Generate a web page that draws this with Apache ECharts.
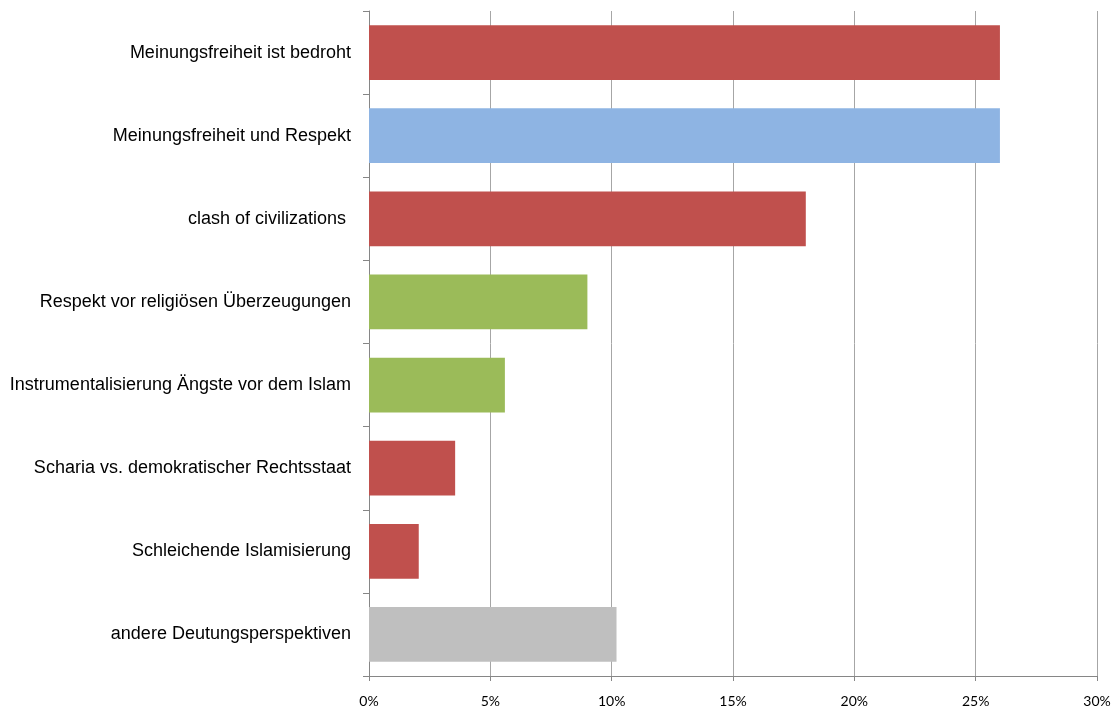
<!DOCTYPE html>
<html>
<head>
<meta charset="utf-8">
<script src="https://cdn.jsdelivr.net/npm/echarts@6/dist/echarts.min.js"></script>
<style>
  html, body { margin: 0; padding: 0; background: #fff; }
  #main { width: 1115px; height: 708px; }
</style>
</head>
<body>
<div id="main"></div>
<script>
var categories = [
    'Meinungsfreiheit ist bedroht',
    'Meinungsfreiheit und Respekt',
    'clash of civilizations ',
    'Respekt vor religiösen Überzeugungen',
    'Instrumentalisierung Ängste vor dem Islam',
    'Scharia vs. demokratischer Rechtsstaat',
    'Schleichende Islamisierung',
    'andere Deutungsperspektiven'
];
var values = [26.0, 26.0, 18.0, 9.0, 5.6, 3.55, 2.05, 10.2];
var barColors = ['#C0504D', '#8EB4E3', '#C0504D', '#9BBB59', '#9BBB59', '#C0504D', '#C0504D', '#BFBFBF'];

var myChart = echarts.init(document.getElementById('main'));

var option = {
    animation: false,
    grid: {
        left: 369,
        right: 18,
        top: 11,
        bottom: 32,
        containLabel: false
    },
    xAxis: {
        type: 'value',
        min: 0,
        max: 30,
        interval: 5,
        axisLine: { show: true, lineStyle: { color: '#868686' } },
        axisTick: { show: true, length: 5, lineStyle: { color: '#868686' } },
        splitLine: { show: true, lineStyle: { color: '#A6A6A6', width: 1 } },
        axisLabel: {
            formatter: '{value}%',
            color: '#000',
            fontFamily: 'Lato, "Open Sans", sans-serif',
            fontSize: 14,
            margin: 18
        }
    },
    yAxis: {
        type: 'category',
        inverse: true,
        data: categories,
        axisLine: { show: true, lineStyle: { color: '#868686' } },
        axisTick: { show: true, length: 6, alignWithLabel: false, lineStyle: { color: '#868686' } },
        axisLabel: {
            color: '#000',
            fontFamily: '"Liberation Sans", Arial, sans-serif',
            fontSize: 18,
            margin: 18,
            padding: [4, 0, 0, 0]
        }
    },
    series: [{
        type: 'bar',
        barCategoryGap: '34%',
        data: values.map(function (v, i) {
            return { value: v, itemStyle: { color: barColors[i] } };
        })
    }]
};

myChart.setOption(option);
</script>
</body>
</html>
